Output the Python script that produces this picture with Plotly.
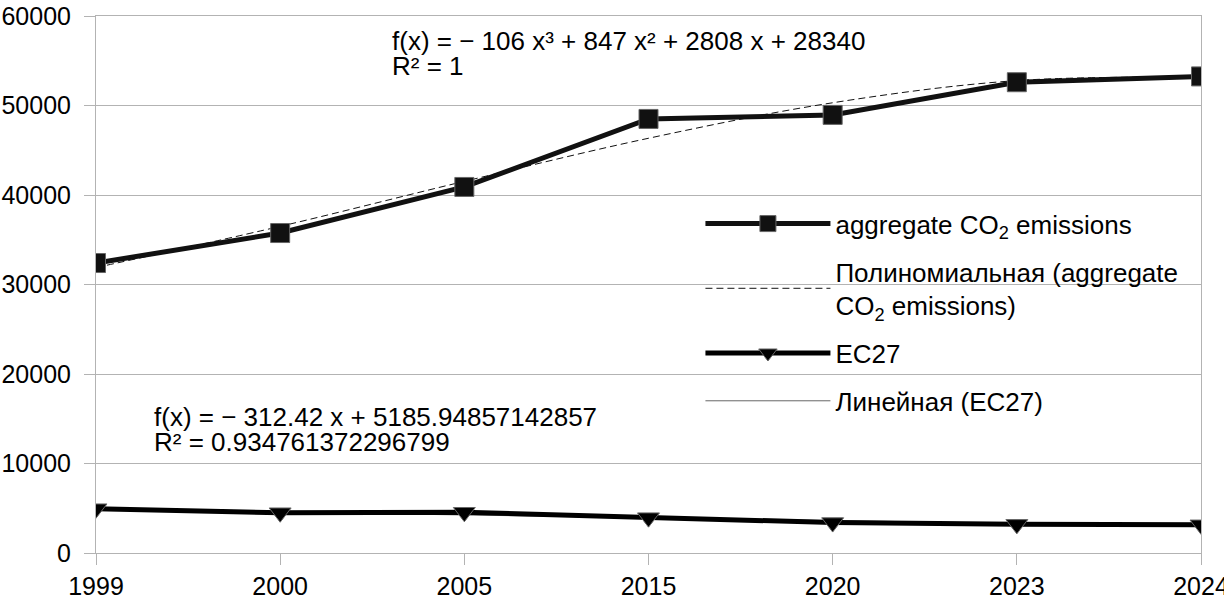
import plotly.graph_objects as go

years = ["1999", "2000", "2005", "2015", "2020", "2023", "2024"]
aggregate_co2 = [32400, 35750, 40900, 48500, 48950, 52600, 53250]
ec27 = [4950, 4500, 4550, 3950, 3400, 3200, 3150]
# trendline values at each category (read from the displayed equations)
poly_trend = [31889, 36496, 41525, 46340, 50305, 52784, 53141]
lin_trend = [4873.5, 4561.1, 4248.7, 3936.3, 3623.9, 3311.5, 2999.1]

poly_lines = ["f(x) = − 106 x³ + 847 x² + 2808 x + 28340", "R² = 1"]
lin_lines = ["f(x) = − 312.42 x + 5185.94857142857", "R² = 0.934761372296799"]

FONT = "Liberation Sans, Arial, sans-serif"
GRID = "#b3b3b3"
FS = 25
FS_TXT = 26

fig = go.Figure()
fig.add_trace(go.Scatter(
    x=years, y=lin_trend, mode="lines",
    name="Линейная (EC27)", legendgroup="d", legendrank=4,
    line=dict(color="#666666", width=1),
))
fig.add_trace(go.Scatter(
    x=years, y=poly_trend, mode="lines",
    name="Полиномиальная (aggregate<br>CO<sub>2</sub> emissions)",
    legendgroup="b", legendrank=2,
    line=dict(color="#111111", width=1, dash="7px,4px", shape="spline"),
))
fig.add_trace(go.Scatter(
    x=years, y=aggregate_co2, mode="lines+markers",
    name="aggregate CO<sub>2</sub> emissions", legendgroup="a", legendrank=1,
    line=dict(color="#111111", width=5),
    marker=dict(symbol="square", size=19, color="#111111",
                line=dict(color="#666666", width=1)),
))
fig.add_trace(go.Scatter(
    x=years, y=ec27, mode="lines+markers",
    name="EC27", legendgroup="c", legendrank=3,
    line=dict(color="#000000", width=5),
    marker=dict(symbol="triangle-down", size=19, color="#000000",
                line=dict(color="#666666", width=1)),
))

ann_font = dict(family=FONT, size=FS_TXT, color="#000")
for txt, yy in zip(poly_lines, [0.9535, 0.906]):
    fig.add_annotation(x=0.2658, y=yy, xref="paper", yref="paper", text=txt,
                       showarrow=False, xanchor="left", yanchor="middle",
                       font=ann_font)
for txt, yy in zip(lin_lines, [0.2533, 0.2067]):
    fig.add_annotation(x=0.0507, y=yy, xref="paper", yref="paper", text=txt,
                       showarrow=False, xanchor="left", yanchor="middle",
                       font=ann_font)

fig.update_layout(
    width=1224, height=602,
    margin=dict(l=96, r=23, t=16, b=49),
    paper_bgcolor="white", plot_bgcolor="white",
    font=dict(family=FONT, size=FS, color="#000"),
    showlegend=True,
    legend=dict(x=0.547, y=0.657, xanchor="left", yanchor="top",
                bgcolor="rgba(0,0,0,0)", itemwidth=125,
                traceorder="grouped", tracegroupgap=11,
                font=dict(family=FONT, size=FS_TXT)),
    xaxis=dict(type="category", range=[0, 6], showgrid=False, automargin=False,
               showline=True, linecolor=GRID, linewidth=1, mirror=True,
               ticks="outside", ticklen=11, tickcolor=GRID,
               tickfont=dict(family=FONT, size=FS)),
    yaxis=dict(range=[0, 60000], dtick=10000, tickformat="d", automargin=False,
               showgrid=True, gridcolor=GRID,
               showline=True, linecolor=GRID, linewidth=1, mirror=True,
               ticks="outside", ticklen=11, tickcolor=GRID, zeroline=False,
               ticklabelstandoff=8,
               tickfont=dict(family=FONT, size=FS)),
)

fig.write_html("out.html",
               config={"displayModeBar": False},
               post_script="document.body.style.margin='0';")
